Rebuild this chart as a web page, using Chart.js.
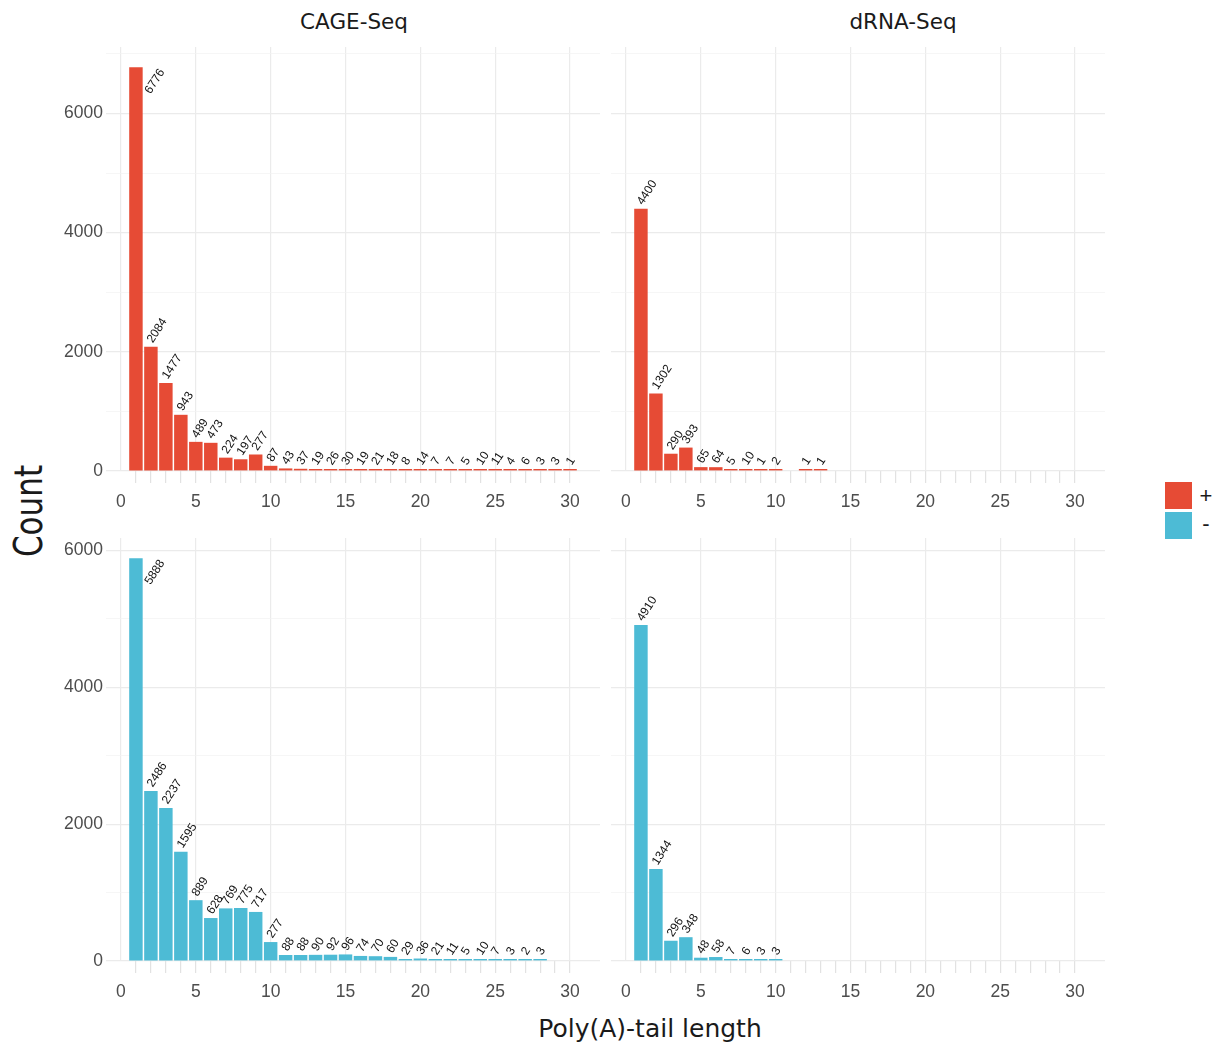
<!DOCTYPE html>
<html>
<head>
<meta charset="utf-8">
<script src="https://cdn.jsdelivr.net/npm/chart.js@4.4.0/dist/chart.umd.min.js"></script>
<style>
    body { margin: 0; background: #fff; }
    #wrap { position: relative; width: 1217px; height: 1045px; overflow: hidden; font-family: 'DejaVu Sans', sans-serif; color: #1a1a1a; }
    canvas { position: absolute; }
    .txt { position: absolute; white-space: nowrap; transform: translate(-50%, -50%); }
    .key { position: absolute; width: 27px; height: 27px; }
</style>
</head>
<body>
<div id="wrap">
    <div class="txt" style="left:354px;top:21px;font-size:21.5px">CAGE-Seq</div>
    <div class="txt" style="left:903px;top:21px;font-size:21.5px">dRNA-Seq</div>
    <div class="txt" style="left:28px;top:511px;font-size:31px;transform:translate(-50%,-50%) rotate(-90deg) scaleY(1.25)">Count</div>
    <div class="txt" style="left:650px;top:1028px;font-size:25px">Poly(A)-tail length</div>

    <canvas id="cage-plus" style="left:0;top:47px" width="600" height="464"></canvas>
    <canvas id="drna-plus" style="left:611px;top:47px" width="494" height="464"></canvas>
    <canvas id="cage-minus" style="left:0;top:538px" width="600" height="463"></canvas>
    <canvas id="drna-minus" style="left:611px;top:538px" width="494" height="463"></canvas>

    <div class="key" style="left:1165px;top:482px;background:#E64B35"></div>
    <div class="key" style="left:1165px;top:512px;background:#4DBBD5"></div>
    <div class="txt" style="left:1206px;top:496px;font-size:22px;font-family:'Liberation Sans',sans-serif">+</div>
    <div class="txt" style="left:1206px;top:524px;font-size:22px;font-family:'Liberation Sans',sans-serif">-</div>
</div>
<script>
// poly(A) tail length bins
const lengths = [1, 2, 3, 4, 5, 6, 7, 8, 9, 10, 11, 12, 13, 14, 15, 16, 17, 18, 19, 20, 21, 22, 23, 24, 25, 26, 27, 28, 29, 30];

// counts per bin (null = no bar)
const cagePlus = [6776, 2084, 1477, 943, 489, 473, 224, 197, 277, 87, 43, 37, 19, 26, 30, 19, 21, 18, 8, 14, 7, 7, 5, 10, 11, 4, 6, 3, 3, 1];
const cageMinus = [5888, 2486, 2237, 1595, 889, 628, 769, 775, 717, 277, 88, 88, 90, 92, 96, 74, 70, 60, 29, 36, 21, 11, 5, 10, 7, 3, 2, 3];
const drnaPlus = [4400, 1302, 290, 393, 65, 64, 5, 10, 1, 2, null, 1, 1];
const drnaMinus = [4910, 1344, 296, 348, 48, 58, 7, 6, 3, 3];

// axis ticks
const xTickValues = [0, 1, 2, 3, 4, 5, 6, 7, 8, 9, 10, 11, 12, 13, 14, 15, 16, 17, 18, 19, 20, 21, 22, 23, 24, 25, 26, 27, 28, 29, 30];
const xLabelValues = [0, 5, 10, 15, 20, 25, 30];
const yGridValues = [0, 1000, 2000, 3000, 4000, 5000, 6000, 7000];
const yLabelValues = [0, 2000, 4000, 6000];

const RED = '#E64B35';
const BLUE = '#4DBBD5';
const tickFont = { family: "'Liberation Sans', Arial, sans-serif", size: 17.5 };

function toPoints(values) {
    const pts = [];
    values.forEach((v, i) => { if (v !== null) pts.push({ x: lengths[i], y: v }); });
    return pts;
}

// rotated count labels above each bar
const barLabels = {
    id: 'barLabels',
    afterDatasetsDraw(chart) {
        const ctx = chart.ctx;
        const area = chart.chartArea;
        const meta = chart.getDatasetMeta(0);
        const pts = chart.data.datasets[0].data;
        const ang = 57 * Math.PI / 180;
        ctx.save();
        ctx.font = "12px 'Liberation Sans', Arial, sans-serif";
        ctx.fillStyle = '#111';
        ctx.textAlign = 'left';
        ctx.textBaseline = 'middle';
        meta.data.forEach((bar, i) => {
            const txt = String(pts[i].y);
            const len = ctx.measureText(txt).width;
            let x = bar.x - 1;
            let y = bar.y - 5;
            if (y - len * Math.sin(ang) - 5 < area.top) {
                // no room above: put it beside the bar
                x = bar.x + bar.width / 2 + 5;
                y = bar.y + 3 + len * Math.sin(ang);
            }
            ctx.save();
            ctx.translate(x, y);
            ctx.rotate(-ang);
            ctx.fillText(txt, 0, 0);
            ctx.restore();
        });
        ctx.restore();
    }
};

function makeChart(id, values, color, yMax, showY) {
    const el = document.getElementById(id);
    return new Chart(el.getContext('2d'), {
        type: 'bar',
        data: { datasets: [{ data: toPoints(values), backgroundColor: color, borderWidth: 0, barPercentage: 0.9, categoryPercentage: 1, minBarLength: 2 }] },
        options: {
            responsive: false,
            animation: false,
            layout: { padding: 0 },
            plugins: { legend: { display: false }, tooltip: { enabled: false } },
            scales: {
                x: {
                    type: 'linear', min: -1, max: 32, offset: false,
                    afterBuildTicks: s => { s.ticks = xTickValues.map(v => ({ value: v })); },
                    afterFit: s => { s.height = 40; s.paddingLeft = 0; s.paddingRight = 0; },
                    ticks: {
                        autoSkip: false, maxRotation: 0, padding: 9, color: '#4d4d4d', font: tickFont,
                        callback: v => xLabelValues.includes(v) ? String(v) : ''
                    },
                    grid: {
                        offset: false,
                        color: c => (c.tick && c.tick.value % 5 === 0) ? '#ebebeb' : 'rgba(0,0,0,0)',
                        lineWidth: 1.2,
                        tickLength: 12,
                        tickWidth: 1.2,
                        tickColor: c => (c.tick && c.tick.value !== 0) ? '#e2e2e2' : 'rgba(0,0,0,0)'
                    },
                    border: { display: false }
                },
                y: {
                    min: 0, max: yMax,
                    afterBuildTicks: s => { s.ticks = yGridValues.filter(v => v <= yMax).map(v => ({ value: v })); },
                    afterFit: s => { s.width = showY ? 106 : 0; s.paddingTop = 0; s.paddingBottom = 0; },
                    ticks: {
                        display: showY, padding: 3, color: '#4d4d4d', font: tickFont,
                        callback: v => yLabelValues.includes(v) ? String(v) : ''
                    },
                    grid: {
                        drawTicks: false,
                        color: c => (c.tick && yLabelValues.includes(c.tick.value)) ? '#ebebeb' : '#f2f2f2',
                        lineWidth: c => (c.tick && yLabelValues.includes(c.tick.value)) ? 1.2 : 0.7
                    },
                    border: { display: false }
                }
            }
        },
        plugins: [barLabels]
    });
}

// free y per row, 5% headroom on top
const topMax = Math.max(...cagePlus, ...drnaPlus.filter(v => v !== null)) * 1.05;
const bottomMax = Math.max(...cageMinus, ...drnaMinus) * 1.05;

makeChart('cage-plus', cagePlus, RED, topMax, true);
makeChart('drna-plus', drnaPlus, RED, topMax, false);
makeChart('cage-minus', cageMinus, BLUE, bottomMax, true);
makeChart('drna-minus', drnaMinus, BLUE, bottomMax, false);
</script>
</body>
</html>
